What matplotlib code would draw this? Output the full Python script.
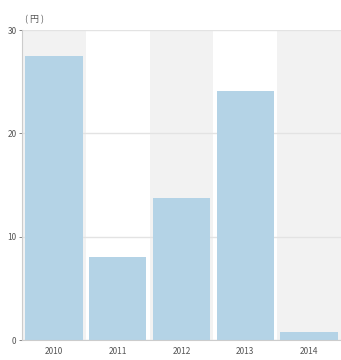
import matplotlib.pyplot as plt

plt.rcParams['font.family'] = ['Noto Sans CJK JP', 'DejaVu Sans']

years = ["2010", "2011", "2012", "2013", "2014"]
values = [27.5, 8.0, 13.7, 24.1, 0.8]
yticks = [0, 10, 20, 30]

fig = plt.figure(figsize=(3.41, 3.6), dpi=100)
ax = fig.add_axes([22 / 341, 20 / 360, 319 / 341, 310 / 360])

x = range(len(years))
# alternating background bands
for i in x:
    if i % 2 == 0:
        ax.axvspan(i - 0.5, i + 0.5, color='#f2f2f2', zorder=0, lw=0)

ax.bar(x, values, width=0.9, color='#b4d3e6', zorder=2)

ax.set_xlim(-0.5, 4.5)
ax.set_ylim(0, 30)
ax.set_yticks(yticks)
ax.set_xticks(list(x))
ax.set_xticklabels(years)
ax.yaxis.grid(True, color='#e3e3e3', lw=1)
ax.set_axisbelow(True)
ax.tick_params(axis='both', labelsize=6, colors='#555555', length=2, width=0.5, pad=2)
ax.tick_params(axis='x', length=0, pad=5)

for s in ['top', 'right']:
    ax.spines[s].set_visible(False)
ax.spines['left'].set_color('#cccccc')
ax.spines['bottom'].set_color('#cccccc')

ax.text(0.01, 1.02, '( 円 )', transform=ax.transAxes, fontsize=6.5,
        color='#555555', ha='left', va='bottom')

plt.savefig('out.png', dpi=100)
